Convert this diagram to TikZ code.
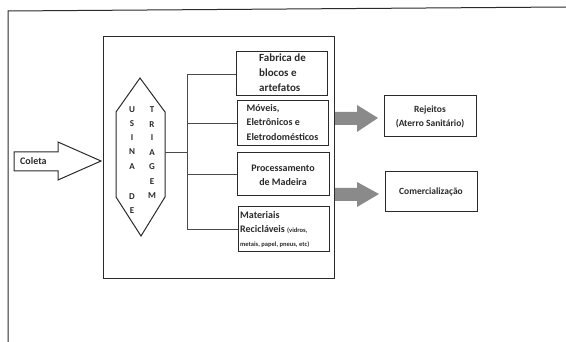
\documentclass[tikz,border=0pt]{standalone}
\usepackage{fontspec}
\setmainfont{Carlito}
\definecolor{ink}{HTML}{2A2A2A}
\definecolor{arrowgray}{HTML}{8A8A8A}
\begin{document}
\begin{tikzpicture}[x=1pt,y=-1pt,line join=miter,
  frame/.style={draw=ink,line width=1pt},
  box/.style={frame,anchor=north west,inner sep=0pt,outer sep=0pt},
  lbl/.style={text=ink,font=\bfseries\fontsize{10}{14.5}\selectfont,inner sep=0pt},
  letter/.style={text=ink,font=\bfseries\fontsize{9}{10}\selectfont,inner sep=0pt},
  bus/.style={draw=ink!85,line width=0.9pt},
  fat/.style={fill=arrowgray,draw=none}]
\useasboundingbox (0,0) rectangle (566,342);

% page frame
\draw[frame] (8,342) -- (8,11) -- (566,7);

% sorting plant enclosure
\node[box,minimum width=231pt,minimum height=242pt] (plant) at (103,37) {};

% incoming collection arrow
\draw[frame,fill=white] (14,152) -- (58,152) -- (58,142) -- (101,161) -- (58,180) -- (58,171) -- (14,171) -- cycle;
\node[lbl,anchor=west,font=\bfseries\fontsize{10}{11}\selectfont] (coleta) at (20,161) {Coleta};

% sorting unit (elongated hexagon)
\draw[frame] (140,78) -- (165,112) -- (165,197) -- (141,236) -- (116,197) -- (116,112) -- cycle;
\coordinate (hexR) at (165,152);
\foreach \ch/\yy [count=\i] in {U/110,S/124,I/138,N/152,A/167,D/197,E/211}
  \node[letter] (l\i) at (132,\yy) {\ch};
\foreach \ch/\yy [count=\i] in {T/110,R/125,I/138,A/153,G/167,E/182,M/196}
  \node[letter] (r\i) at (152,\yy) {\ch};

% destination boxes inside the plant
\node[box,minimum width=91pt,minimum height=44pt] (fab) at (236,52) {};
\node[lbl,align=left,font=\bfseries\fontsize{11}{15}\selectfont] at ([xshift=1pt,yshift=1pt]fab.center) {Fabrica de\\blocos e\\artefatos};

\node[box,minimum width=91pt,minimum height=45pt] (mov) at (237,101) {};
\node[lbl,align=left] at ([yshift=1pt]mov.center) {Móveis,\\Eletrônicos e\\Eletrodomésticos};

\node[box,minimum width=92pt,minimum height=43pt] (proc) at (237,153) {};
\node[lbl,align=center] at ([yshift=-1pt]proc.center) {Processamento\\de Madeira};

\node[box,minimum width=91pt,minimum height=45pt] (mat) at (238,207) {};
\node[lbl,align=left,anchor=north west] at ([xshift=2pt,yshift=-4pt]mat.north west)
  {Materiais\\Recicláveis {\bfseries\fontsize{6.5}{8}\selectfont(vidros,}\\[-1pt]{\bfseries\fontsize{6.5}{8}\selectfont metais, papel, pneus, etc)}};

% distribution bus
\coordinate (bus) at (187,152);
\draw[bus] (hexR) -- (bus);
\draw[bus] (bus) |- (fab.west);
\draw[bus] (bus) |- (mov.west);
\draw[bus] (bus) |- (proc.west);
\draw[bus] (bus) |- (mat.west);

% outputs
\node[box,minimum width=92pt,minimum height=41pt] (rej) at (384,96) {};
\node[lbl,align=center,font=\bfseries\fontsize{9.5}{14}\selectfont] at (rej.center) {Rejeitos\\(Aterro Sanitário)};
\node[box,minimum width=92pt,minimum height=40pt] (com) at (385,172) {};
\node[lbl,font=\bfseries\fontsize{9.5}{12}\selectfont] at (com.center) {Comercialização};

% block arrows towards outputs
\draw[fat] (335,112) -- (357,112) -- (357,105) -- (378,118) -- (357,132) -- (357,125) -- (335,125) -- cycle;
\draw[fat] (335,188) -- (357,188) -- (357,182) -- (379,194) -- (357,207) -- (357,201) -- (335,201) -- cycle;
\end{tikzpicture}
\end{document}
